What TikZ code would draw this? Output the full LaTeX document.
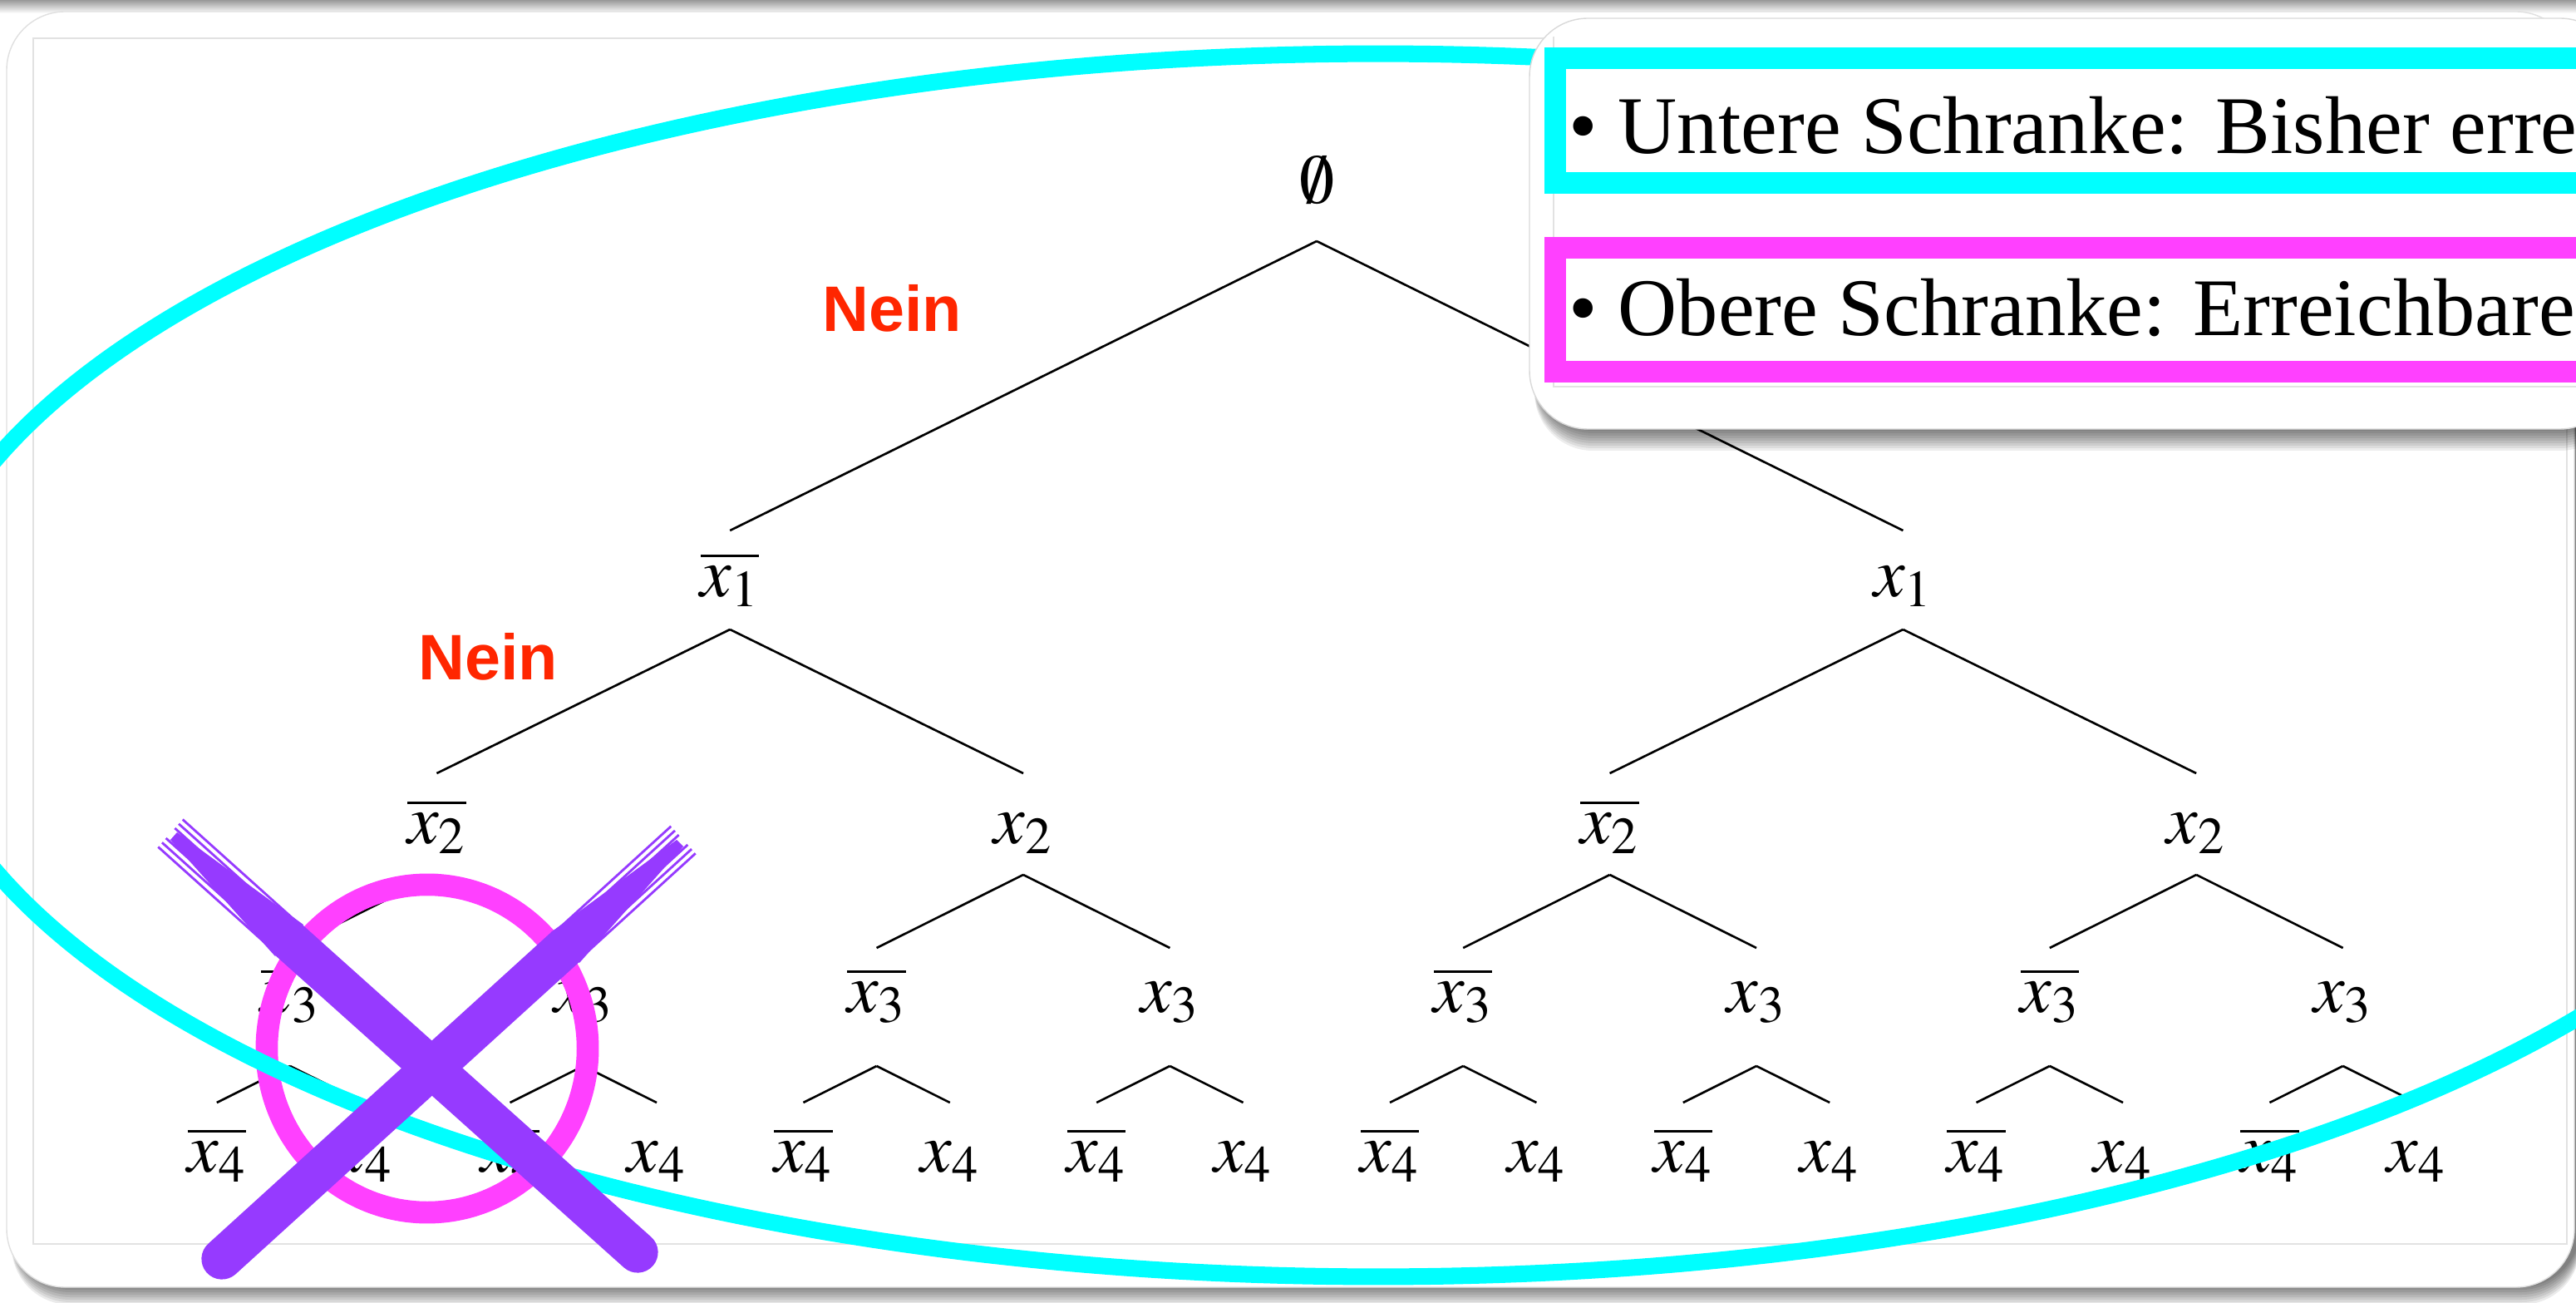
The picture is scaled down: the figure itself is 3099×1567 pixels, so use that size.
\documentclass[tikz,border=0pt]{standalone}
\usepackage{mathptmx}
\usepackage{fontspec}
\setmainfont{Liberation Serif}
\newfontfamily\neinfont{Liberation Sans}
\usetikzlibrary{calc}
\definecolor{cyanline}{RGB}{0,255,255}
\definecolor{magline}{RGB}{255,64,255}
\definecolor{xpurple}{RGB}{150,58,255}
\definecolor{neinred}{RGB}{255,38,0}
\definecolor{framegray}{RGB}{226,226,226}
\tikzset{
  var/.style={anchor=base, inner sep=0pt, font=\fontsize{24}{28}\selectfont},
  branch/.style={draw=black, line width=0.75pt},
  nein/.style={text=neinred, font=\neinfont\bfseries\fontsize{22}{26}\selectfont},
  bndbox/.style={line width=7.4pt},
  bndtext/.style={anchor=base west, inner sep=0pt, font=\fontsize{28}{32}\selectfont},
}
\newcommand{\lit}[2]{\ifodd#1 $x_{#2}$\else $\overline{x_{#2}}$\fi}
\newcommand{\branchto}[4]{\draw[branch] ($(#1.base)+(0,#3)$) -- ($(#2.base)+(0,#4)$);}

\begin{document}
\begin{tikzpicture}[x=0.01cm, y=-0.01cm]
\useasboundingbox (0,0) rectangle (3099,1567);
\clip (0,0) rectangle (3099,1567);
\fill[white] (0,0) rectangle (3099,1567);
\fill[top color=black!40, bottom color=white] (0,0) rectangle (3099,16);
% card with shadow
\foreach \s in {2,5,...,23} \fill[black, opacity=0.08, rounded corners=20] (14,{20+\s}) rectangle (3104,{1546+\s});
\draw[black!12, fill=white, rounded corners=20] (8,14) rectangle (3097,1548);
\draw[framegray, line width=0.4pt] (40,46) rectangle (3088,1496);

% tree
\node[var] (r) at (1584,245) {$\emptyset$};
\foreach \k in {0,1} \node[var] (p\k) at ({878.2+1411.2*\k},717) {\lit{\k}{1}};
\foreach \k in {0,...,3} \node[var] (q\k) at ({525.4+705.6*\k},1014) {\lit{\k}{2}};
\foreach \k in {0,...,7} \node[var] (s\k) at ({349+352.8*\k},1217) {\lit{\k}{3}};
\foreach \k in {0,...,15} \node[var] (t\k) at ({260.8+176.4*\k},1409) {\lit{\k}{4}};
\foreach \k in {0,1} {\branchto{r}{p\k}{45}{-79}}
\foreach \k in {0,...,3} {\pgfmathtruncatemacro\mom{\k/2}\branchto{p\mom}{q\k}{40}{-84}}
\foreach \k in {0,...,7} {\pgfmathtruncatemacro\mom{\k/2}\branchto{q\mom}{s\k}{38}{-77}}
\foreach \k in {0,...,15} {\pgfmathtruncatemacro\mom{\k/2}\branchto{s\mom}{t\k}{65}{-83}}

\node[nein] (nein1) at (1073,371) {Nein};
\node[nein] (nein2) at (587,790) {Nein};

% markings
\draw[magline, line width=7.6pt] (514,1261) ellipse [x radius=1.93cm, y radius=1.97cm];
\draw[cyanline, line width=5.7pt] (1658,800) ellipse [x radius=17.65cm, y radius=7.35cm];
% purple cross, tapered brush strokes
\fill[xpurple] (213,1001) -- (365,1112) -- (331,1150) -- (205,1010) -- cycle;
\draw[xpurple, line width=14pt, line cap=round] (348,1131) -- (767,1506);
\fill[xpurple] (822,1018) -- (697,1158) -- (663,1121) -- (814,1010) -- cycle;
\draw[xpurple, line width=14pt, line cap=round] (680,1139) -- (267,1514);
\foreach \o in {-22,-15,-8,8,15,22} {
  \draw[xpurple, line width=0.8pt] ($(205,1002)+(\o*0.67,-\o*0.75)$) -- ($(420,1195)+(\o*0.67,-\o*0.75)$);
  \draw[xpurple, line width=0.8pt] ($(822,1010)+(\o*0.67,\o*0.74)$) -- ($(610,1203)+(\o*0.67,\o*0.74)$);
}

% legend card
\foreach \s in {2,5,...,26} \fill[black, opacity=0.07, rounded corners=20] (1846,{30+\s}) rectangle (3150,{516+\s});
\draw[black!15, fill=white, rounded corners=20] (1840,22) rectangle (3150,516);
\draw[framegray, line width=0.4pt] (1869,44) -- (1869,465) -- (3150,465);
\draw[cyanline, bndbox] (1871,70) rectangle (3160,220);
\draw[magline, bndbox] (1871,298) rectangle (3160,447);
\node[bndtext] (untere) at (1887,185) {\textbullet\ Untere Schranke: Bisher erre};
\node[bndtext] (obere) at (1887,404) {\textbullet\ Obere Schranke: Erreichbare};
\end{tikzpicture}
\end{document}
